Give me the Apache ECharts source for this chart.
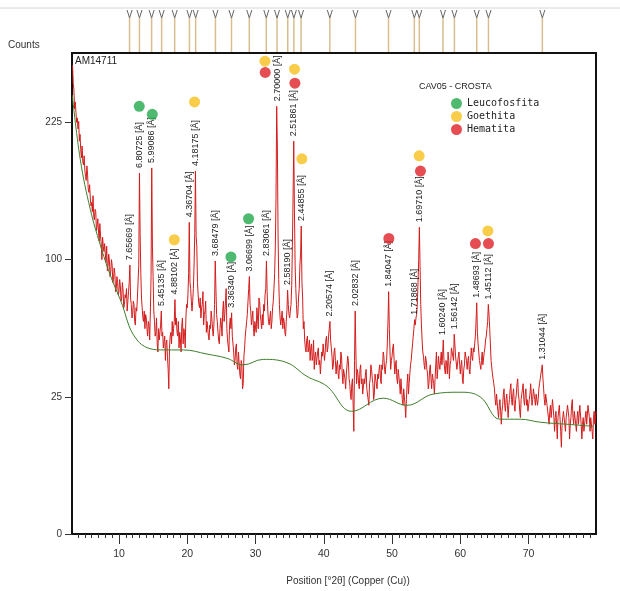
<!DOCTYPE html>
<html>
<head>
<meta charset="utf-8">
<title>AM14711 - CAV05 CROSTA</title>
<script src="https://cdn.jsdelivr.net/npm/echarts@6/dist/echarts.min.js"></script>
<style>
  html, body { margin: 0; padding: 0; background: #fff; }
  #chart { width: 620px; height: 591px; }
</style>
</head>
<body>
<div id="chart"></div>
<script>
// scan: counts every 0.1 deg 2theta, starting at 3.2
var scanStart = 3.2;
var scanStep = 0.1;
var counts = [
  292, 270, 262, 240, 248, 236, 225, 230,                   // 3.2 - 3.9
  218, 226, 205, 212, 196, 188, 200, 184, 181, 190,         // 4
  176, 170, 166, 180, 172, 158, 155, 162, 150, 143,         // 5
  146, 138, 152, 134, 131, 140, 138, 122, 126, 132,         // 6
  122, 114, 128, 118, 112, 100, 117, 110, 106, 112,         // 7
  104, 98, 110, 92, 95, 104, 99, 88, 92, 100,               // 8
  96, 84, 86, 94, 90, 78, 80, 88, 84, 76,                   // 9
  78, 86, 82, 72, 74, 84, 79, 68, 70, 76,                   // 10
  74, 80, 66, 72, 78, 84, 96, 74, 70, 62,                   // 11
  64, 72, 70, 60, 58, 68, 66, 74, 75, 96,                   // 12
  173, 120, 90, 74, 68, 62, 60, 66, 56, 64,                 // 13
  62, 56, 52, 60, 58, 50, 66, 88, 178, 110,                 // 14
  88, 66, 60, 52, 54, 62, 48, 44, 56, 50,                   // 15
  50, 58, 66, 52, 54, 46, 46, 52, 40, 48,                   // 16
  50, 42, 36, 28, 46, 52, 54, 48, 60, 52,                   // 17
  56, 60, 73, 58, 62, 54, 52, 60, 46, 54,                   // 18
  50, 44, 58, 62, 48, 56, 54, 46, 62, 70,                   // 19
  68, 76, 90, 129, 84, 80, 72, 66, 72, 80,                  // 20
  96, 120, 175, 118, 110, 84, 76, 70, 68, 74,               // 21
  62, 68, 70, 78, 58, 64, 66, 72, 54, 60,                   // 22
  60, 52, 50, 58, 56, 66, 62, 56, 52, 58,                   // 23
  70, 99, 80, 64, 60, 54, 50, 48, 56, 62,                   // 24
  58, 52, 66, 72, 60, 64, 72, 80, 56, 50,                   // 25
  50, 44, 58, 62, 56, 65, 52, 48, 44, 38,                   // 26
  40, 46, 48, 38, 36, 44, 44, 34, 32, 40,                   // 27
  38, 28, 30, 42, 46, 52, 56, 60, 64, 72,                   // 28
  80, 88, 70, 66, 58, 62, 66, 56, 52, 60,                   // 29
  60, 54, 68, 62, 56, 74, 72, 64, 60, 56,                   // 30
  64, 58, 70, 66, 76, 80, 99, 78, 66, 60,                   // 31
  58, 62, 66, 56, 60, 68, 72, 80, 90, 110,                  // 32
  150, 243, 200, 120, 86, 70, 62, 58, 62, 66,               // 33
  56, 62, 60, 54, 52, 60, 66, 79, 70, 64,                   // 34
  62, 66, 70, 82, 110, 150, 205, 140, 96, 80,               // 35
  70, 62, 64, 74, 80, 96, 104, 126, 84, 74,                 // 36
  56, 60, 50, 46, 44, 50, 52, 44, 46, 50,                   // 37
  40, 46, 48, 40, 42, 50, 36, 42, 44, 38,                   // 38
  38, 44, 46, 38, 40, 34, 34, 44, 42, 48,                   // 39
  48, 40, 44, 50, 52, 44, 46, 52, 56, 60,                   // 40
  50, 46, 42, 36, 38, 44, 46, 40, 34, 38,                   // 41
  40, 34, 32, 38, 36, 44, 42, 34, 30, 36,                   // 42
  36, 32, 28, 34, 34, 42, 40, 32, 30, 26,                   // 43
  24, 30, 32, 22, 14, 40, 66, 44, 30, 36,                   // 44
  34, 30, 28, 36, 38, 30, 32, 26, 26, 32,                   // 45
  30, 34, 36, 28, 28, 24, 22, 30, 32, 38,                   // 46
  36, 32, 30, 24, 26, 34, 34, 30, 28, 34,                   // 47
  32, 36, 38, 32, 30, 38, 36, 44, 42, 36,                   // 48
  34, 38, 40, 48, 60, 78, 56, 44, 36, 40,                   // 49
  42, 46, 48, 40, 34, 38, 40, 32, 30, 36,                   // 50
  36, 30, 26, 32, 32, 24, 22, 28, 28, 22,                   // 51
  18, 24, 30, 34, 26, 30, 34, 38, 40, 44,                   // 52
  48, 52, 56, 61, 58, 62, 64, 70, 84, 100,                  // 53
  125, 96, 70, 58, 50, 44, 42, 38, 36, 42,                  // 54
  40, 36, 34, 28, 30, 36, 38, 32, 28, 34,                   // 55
  34, 30, 26, 32, 38, 44, 32, 36, 42, 38,                   // 56
  36, 40, 44, 38, 42, 50, 40, 36, 34, 40,                   // 57
  38, 34, 44, 40, 32, 38, 40, 46, 46, 42,                   // 58
  40, 53, 48, 42, 42, 36, 36, 42, 44, 38,                   // 59
  34, 38, 40, 32, 30, 36, 38, 44, 44, 40,                   // 60
  36, 40, 42, 36, 34, 40, 46, 42, 40, 46,                   // 61
  44, 48, 52, 60, 71, 54, 48, 44, 40, 38,                   // 62
  36, 40, 44, 38, 38, 44, 46, 50, 52, 56,                   // 63
  60, 70, 64, 56, 48, 40, 40, 34, 32, 30,                   // 64
  28, 24, 22, 26, 26, 20, 18, 22, 24, 20,                   // 65
  16, 20, 22, 26, 28, 22, 20, 24, 26, 22,                   // 66
  18, 22, 24, 28, 30, 24, 22, 26, 28, 22,                   // 67
  20, 24, 26, 30, 32, 26, 24, 20, 18, 24,                   // 68
  26, 28, 30, 24, 22, 26, 28, 22, 24, 20,                   // 69
  20, 24, 26, 30, 30, 22, 24, 28, 28, 24,                   // 70
  22, 26, 26, 22, 24, 28, 30, 32, 34, 36,                   // 71
  38, 32, 28, 24, 22, 26, 26, 22, 20, 18,                   // 72
  16, 20, 22, 18, 18, 24, 24, 18, 14, 18,                   // 73
  20, 16, 12, 18, 18, 22, 22, 14, 10, 16,                   // 74
  16, 20, 20, 16, 14, 18, 18, 22, 22, 18,                   // 75
  12, 16, 18, 22, 24, 18, 16, 20, 20, 16,                   // 76
  14, 18, 20, 16, 16, 22, 22, 16, 12, 16,                   // 77
  18, 14, 14, 18, 20, 16, 16, 22, 22, 18,                   // 78
  14, 18, 18, 14, 12, 18, 20, 16, 16, 20                    // 79
];

// fitted background (green)
var bgPos = [3.16, 4.34, 5.8, 7.26, 8.73, 10.19, 12.64, 16.05, 19.42, 22.89, 25.81, 28.2, 31.13,
  34.6, 37.53, 40.46, 44.1, 48.7, 52.17, 56.02, 59.97, 62.9, 65.83, 68.76, 71.69, 75.6, 79.45];
var bgCounts = [256, 186, 140, 111, 89, 73, 50, 45, 45, 43, 41, 38, 40.5,
  39, 33, 29, 20, 24.5, 22, 26, 26.7, 25, 17.5, 17.5, 16.6, 16, 15.4];

// peak list
var peakPos = [11.55, 13.00, 14.78, 16.25, 18.16, 20.32, 21.23, 24.13, 26.48, 29.09, 31.58, 33.15, 34.72,
  35.62, 36.67, 40.88, 44.64, 49.48, 53.26, 53.99, 57.46, 59.13, 62.40, 64.12, 72.01];
var peakCounts = [96, 173, 178, 66, 73, 129, 175, 99, 65, 88, 99, 243, 79,
  205, 126, 60, 66, 78, 61, 125, 50, 53, 71, 70, 38];
var peakD = ['7.65669', '6.80725', '5.99086', '5.45135', '4.88102', '4.36704', '4.18175', '3.68479',
  '3.36340', '3.06699', '2.83061', '2.70000', '2.58190', '2.51861', '2.44855', '2.20574', '2.02832',
  '1.84047', '1.71868', '1.69710', '1.60240', '1.56142', '1.48693', '1.45112', '1.31044'];

// phase identification dots [2theta, counts]
var leucoDots = [[12.97, 243], [14.88, 234], [26.4, 102], [28.98, 132]];
var goethDots = [[18.1, 115], [21.07, 248], [31.38, 297], [35.71, 287], [36.79, 187], [53.97, 190], [64.03, 122]];
var hemaDots = [[31.42, 283], [35.77, 270], [54.16, 175], [49.53, 116], [62.21, 112], [64.12, 112]];

var xTicks = [10, 20, 30, 40, 50, 60, 70];
var yTicks = [0, 25, 100, 225];

var X_MIN = 3.12, X_MAX = 79.87, Y_MAX = 17.53;   // y axis is square-root of counts
var FONT = '"Liberation Sans", Arial, sans-serif';

function sq(c) { return Math.sqrt(c); }

var traceData = counts.map(function (c, i) {
  return [+(scanStart + i * scanStep).toFixed(2), sq(c)];
});
var bgData = bgPos.map(function (p, i) { return [p, sq(bgCounts[i])]; });
var peakData = peakPos.map(function (p, i) { return [p, sq(peakCounts[i])]; });
function dots(list) { return list.map(function (d) { return [d[0], sq(d[1])]; }); }

var minorTicks = [];
for (var t = 4; t <= 79; t++) { if (t % 10 !== 0) minorTicks.push(t); }

var chart = echarts.init(document.getElementById('chart'));
chart.setOption({
  animation: false,
  backgroundColor: '#fff',
  grid: { left: 72, right: 24, top: 53, bottom: 56, show: true, borderColor: '#111', borderWidth: 2 },
  legend: {
    orient: 'vertical', left: 446, top: 93, itemWidth: 11, itemHeight: 11, itemGap: 2,
    icon: 'circle',
    textStyle: { fontFamily: '"DejaVu Sans Mono", monospace', fontSize: 10, color: '#222' },
    data: ['Leucofosfita', 'Goethita', 'Hematita']
  },
  graphic: [
    { type: 'line', shape: { x1: 0, y1: 8, x2: 620, y2: 8 }, style: { stroke: '#d6d6d6', lineWidth: 1 } },
    { type: 'text', left: 8, top: 40, style: { text: 'Counts', font: '10px ' + FONT, fill: '#333' } },
    { type: 'text', left: 75, top: 56, style: { text: 'AM14711', font: '10px ' + FONT, fill: '#222' } },
    { type: 'text', left: 419, top: 82, style: { text: 'CAV05 - CROSTA', font: '9px ' + FONT, fill: '#222' } }
  ],
  xAxis: [{
    type: 'value', min: X_MIN, max: X_MAX,
    name: 'Position [°2θ] (Copper (Cu))', nameLocation: 'middle', nameGap: 42,
    nameTextStyle: { fontFamily: FONT, fontSize: 10, color: '#333', padding: [0, 0, 0, 28] },
    axisLine: { lineStyle: { color: '#111', width: 2 } },
    axisTick: { customValues: xTicks, length: 10, lineStyle: { color: '#333' } },
    axisLabel: { customValues: xTicks, margin: 15, fontFamily: FONT, fontSize: 10.5, color: '#333' },
    splitLine: { show: false }
  }, {
    type: 'value', min: X_MIN, max: X_MAX, position: 'bottom',
    axisLine: { show: false },
    axisTick: { customValues: minorTicks, length: 4, lineStyle: { color: '#333' } },
    axisLabel: { show: false },
    splitLine: { show: false }
  }],
  yAxis: {
    type: 'value', min: 0, max: Y_MAX,
    axisLine: { show: true, lineStyle: { color: '#111', width: 2 } },
    axisTick: { show: true, customValues: yTicks.map(sq), length: 7, lineStyle: { color: '#333' } },
    axisLabel: {
      customValues: yTicks.map(sq), margin: 10, fontFamily: FONT, fontSize: 10, color: '#333',
      formatter: function (v) { return String(Math.round(v * v)); }
    },
    splitLine: { show: false }
  },
  series: [
    {
      name: 'scan', type: 'line', data: traceData, showSymbol: false, sampling: 'none',
      lineStyle: { color: '#d41c1c', width: 1 }, z: 3
    },
    {
      name: 'background', type: 'line', data: bgData, showSymbol: false, smooth: 0.4,
      lineStyle: { color: '#3d7f2c', width: 1 }, z: 4
    },
    {
      name: 'peakLabels', type: 'custom', data: peakData, z: 5,
      renderItem: function (params, api) {
        var p = api.coord([api.value(0), api.value(1)]);
        return {
          type: 'text', x: p[0], y: p[1] - 5, rotation: Math.PI / 2,
          style: {
            text: peakD[params.dataIndex] + ' [Å]', font: '9px ' + FONT, fill: '#1a1a1a',
            align: 'left', verticalAlign: 'middle', textAlign: 'left', textVerticalAlign: 'middle'
          }
        };
      }
    },
    {
      name: 'peakMarks', type: 'custom', clip: false, z: 2,
      data: peakPos.map(function (p) { return [p]; }),
      renderItem: function (params, api) {
        var p = api.coord([api.value(0), Y_MAX]);
        return {
          type: 'group', children: [
            { type: 'line', shape: { x1: p[0], y1: p[1] - 35, x2: p[0], y2: p[1] - 1 },
              style: { stroke: '#d9bd8f', lineWidth: 1.5 } },
            { type: 'polyline', shape: { points: [[p[0] - 2.5, p[1] - 43], [p[0], p[1] - 35], [p[0] + 2.5, p[1] - 43]] },
              style: { stroke: '#666', lineWidth: 1, fill: null } }
          ]
        };
      }
    },
    { name: 'Leucofosfita', type: 'scatter', data: dots(leucoDots), symbolSize: 11, itemStyle: { color: '#22a94b' }, z: 6 },
    { name: 'Goethita', type: 'scatter', data: dots(goethDots), symbolSize: 11, itemStyle: { color: '#f7c11d' }, z: 6 },
    { name: 'Hematita', type: 'scatter', data: dots(hemaDots), symbolSize: 11, itemStyle: { color: '#de2027' }, z: 6 }
  ]
});
</script>
</body>
</html>
